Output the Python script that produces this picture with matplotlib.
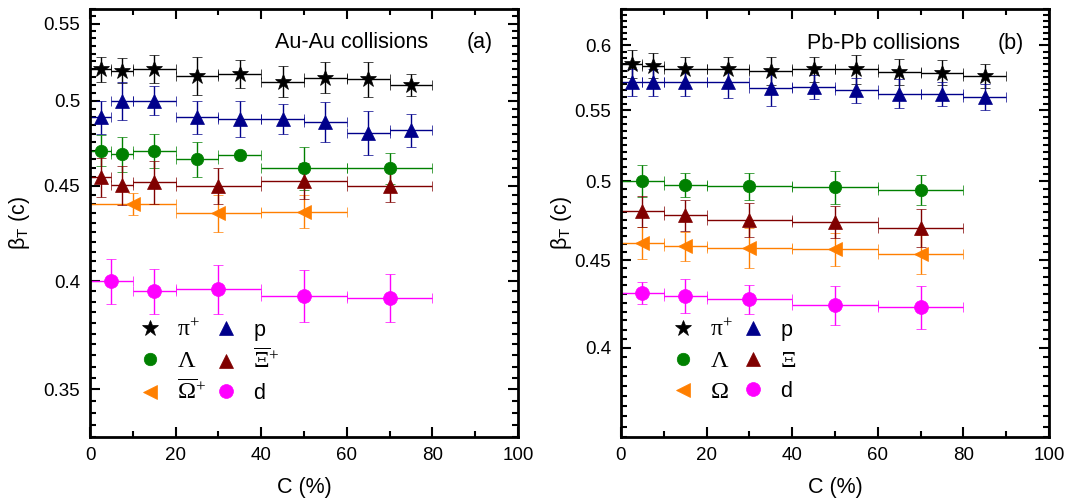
import matplotlib
matplotlib.use("Agg")
import matplotlib.pyplot as plt
from matplotlib.ticker import MultipleLocator, FormatStrFormatter, NullFormatter

plt.rcParams['font.family'] = ['Liberation Sans', 'DejaVu Sans']
plt.rcParams['mathtext.fontset'] = 'custom'
plt.rcParams['mathtext.rm'] = 'Liberation Serif'
plt.rcParams['mathtext.it'] = 'Liberation Serif:italic'
plt.rcParams['mathtext.sf'] = 'Liberation Sans'

# ---- Au-Au (a) ----
au_pi_c = [2.5, 7.5, 15, 25, 35, 45, 55, 65, 75]
au_pi_dx = [2.5, 2.5, 5, 5, 5, 5, 5, 5, 5]
au_pi_y = [0.520, 0.519, 0.520, 0.5155, 0.517, 0.512, 0.5145, 0.5135, 0.510]
au_pi_e = [0.008, 0.008, 0.009, 0.012, 0.009, 0.010, 0.010, 0.011, 0.007]

au_p_c = [2.5, 7.5, 15, 25, 35, 45, 55, 65, 75]
au_p_dx = [2.5, 2.5, 5, 5, 5, 5, 5, 5, 5]
au_p_y = [0.490, 0.500, 0.500, 0.490, 0.489, 0.489, 0.487, 0.4805, 0.482]
au_p_e = [0.010, 0.012, 0.009, 0.010, 0.011, 0.009, 0.012, 0.013, 0.010]

au_lam_c = [2.5, 7.5, 15, 25, 35, 50, 70]
au_lam_dx = [2.5, 2.5, 5, 5, 5, 10, 10]
au_lam_y = [0.470, 0.468, 0.470, 0.465, 0.4675, 0.460, 0.460]
au_lam_e = [0.009, 0.010, 0.010, 0.010, 0.0, 0.012, 0.009]

au_xi_c = [2.5, 7.5, 15, 30, 50, 70]
au_xi_dx = [2.5, 2.5, 5, 10, 10, 10]
au_xi_y = [0.455, 0.4505, 0.452, 0.450, 0.453, 0.450]
au_xi_e = [0.011, 0.011, 0.012, 0.010, 0.010, 0.009]

au_om_c = [10, 30, 50]
au_om_dx = [10, 10, 10]
au_om_y = [0.440, 0.435, 0.436]
au_om_e = [0.006, 0.010, 0.009]

au_d_c = [5, 15, 30, 50, 70]
au_d_dx = [5, 5, 10, 10, 10]
au_d_y = [0.400, 0.395, 0.396, 0.393, 0.392]
au_d_e = [0.011, 0.011, 0.012, 0.0125, 0.0115]

# ---- Pb-Pb (b) ----
pb_pi_c = [2.5, 7.5, 15, 25, 35, 45, 55, 65, 75, 85]
pb_pi_dx = [2.5, 2.5, 5, 5, 5, 5, 5, 5, 5, 5]
pb_pi_y = [0.585, 0.584, 0.581, 0.581, 0.580, 0.581, 0.581, 0.579, 0.5785, 0.576]
pb_pi_e = [0.011, 0.010, 0.010, 0.010, 0.011, 0.010, 0.011, 0.010, 0.0095, 0.009]

pb_p_c = [2.5, 7.5, 15, 25, 35, 45, 55, 65, 75, 85]
pb_p_dx = [2.5, 2.5, 5, 5, 5, 5, 5, 5, 5, 5]
pb_p_y = [0.571, 0.571, 0.571, 0.571, 0.5665, 0.5675, 0.565, 0.5625, 0.5625, 0.560]
pb_p_e = [0.010, 0.010, 0.010, 0.012, 0.013, 0.009, 0.0095, 0.011, 0.009, 0.010]

pb_lam_c = [5, 15, 30, 50, 70]
pb_lam_dx = [5, 5, 10, 10, 10]
pb_lam_y = [0.5005, 0.4975, 0.497, 0.496, 0.4945]
pb_lam_e = [0.0105, 0.008, 0.009, 0.011, 0.010]

pb_xi_c = [5, 15, 30, 50, 70]
pb_xi_dx = [5, 5, 10, 10, 10]
pb_xi_y = [0.4805, 0.478, 0.475, 0.4735, 0.470]
pb_xi_e = [0.010, 0.010, 0.011, 0.010, 0.012]

pb_om_c = [5, 15, 30, 50, 70]
pb_om_dx = [5, 5, 10, 10, 10]
pb_om_y = [0.4605, 0.4585, 0.4575, 0.4565, 0.4535]
pb_om_e = [0.010, 0.009, 0.012, 0.010, 0.012]

pb_d_c = [5, 15, 30, 50, 70]
pb_d_dx = [5, 5, 10, 10, 10]
pb_d_y = [0.4305, 0.429, 0.427, 0.4235, 0.4225]
pb_d_e = [0.0065, 0.010, 0.0085, 0.011, 0.012]

BLACK, NAVY, GREEN, MAROON, ORANGE, MAGENTA = '#000000', '#00008B', '#008000', '#800000', '#FF7F00', '#FF00FF'


def series(ax, c, dx, y, e, color, marker, ms):
    return ax.errorbar(c, y, xerr=dx, yerr=e, fmt=marker, color=color, ms=ms,
                       ecolor=color, elinewidth=1.0, capsize=3.5, capthick=1.0,
                       markeredgewidth=0.5)


def style(ax, ylim, ylab_x):
    ax.set_xlim(0, 100)
    ax.set_yscale('log')
    ax.set_ylim(*ylim)
    ax.xaxis.set_major_locator(MultipleLocator(20))
    ax.xaxis.set_minor_locator(MultipleLocator(10))
    ax.yaxis.set_major_locator(MultipleLocator(0.05))
    ax.yaxis.set_minor_locator(MultipleLocator(0.005))
    ax.yaxis.set_major_formatter(FormatStrFormatter('%g'))
    ax.yaxis.set_minor_formatter(NullFormatter())
    ax.tick_params(which='both', direction='in', top=True, right=True, labelsize=13.5, width=1.5)
    ax.tick_params(which='major', length=7, pad=7)
    ax.tick_params(which='minor', length=4)
    for s in ax.spines.values():
        s.set_linewidth(2)
    ax.set_xlabel('C (%)', fontsize=15.5)
    ax.set_ylabel(r'β$_\mathsf{T}$ (c)', fontsize=15.5)
    ax.xaxis.set_label_coords(0.5, -0.093)
    ax.yaxis.set_label_coords(ylab_x, 0.5)


fig = plt.figure(figsize=(10.69, 4.99), dpi=100)
ax1 = fig.add_axes([90 / 1069, 62 / 499, 428 / 1069, 428 / 499])
ax2 = fig.add_axes([621 / 1069, 62 / 499, 428 / 1069, 428 / 499])

h1 = [
    series(ax1, au_pi_c, au_pi_dx, au_pi_y, au_pi_e, BLACK, '*', 12),
    series(ax1, au_lam_c, au_lam_dx, au_lam_y, au_lam_e, GREEN, 'o', 9),
    series(ax1, au_om_c, au_om_dx, au_om_y, au_om_e, ORANGE, '<', 10),
    series(ax1, au_p_c, au_p_dx, au_p_y, au_p_e, NAVY, '^', 10),
    series(ax1, au_xi_c, au_xi_dx, au_xi_y, au_xi_e, MAROON, '^', 10),
    series(ax1, au_d_c, au_d_dx, au_d_y, au_d_e, MAGENTA, 'o', 10),
]
h2 = [
    series(ax2, pb_pi_c, pb_pi_dx, pb_pi_y, pb_pi_e, BLACK, '*', 12),
    series(ax2, pb_lam_c, pb_lam_dx, pb_lam_y, pb_lam_e, GREEN, 'o', 9),
    series(ax2, pb_om_c, pb_om_dx, pb_om_y, pb_om_e, ORANGE, '<', 10),
    series(ax2, pb_p_c, pb_p_dx, pb_p_y, pb_p_e, NAVY, '^', 10),
    series(ax2, pb_xi_c, pb_xi_dx, pb_xi_y, pb_xi_e, MAROON, '^', 10),
    series(ax2, pb_d_c, pb_d_dx, pb_d_y, pb_d_e, MAGENTA, 'o', 10),
]

labels_a = [r'π$^{+}$', r'$\Lambda$', r'$\overline{\Omega}^{+}$', 'p', r'$\overline{\Xi}^{+}$', 'd']
labels_b = [r'π$^{+}$', r'$\Lambda$', r'$\Omega$', 'p', r'$\Xi$', 'd']

style(ax1, (0.33, 0.56), -0.135)
style(ax2, (0.355, 0.63), -0.11)

for ax, hs, labs, x0 in [(ax1, h1, labels_a, 0.115), (ax2, h2, labels_b, 0.12)]:
    leg = ax.legend([h[0] for h in hs], labs, ncol=2, loc='upper left',
                    bbox_to_anchor=(x0, 0.275), frameon=False, fontsize=15.5,
                    handlelength=1.0, handletextpad=0.75, columnspacing=0.45,
                    labelspacing=0.42, borderpad=0, borderaxespad=0)
    for t, lab in zip(leg.get_texts(), labs):
        if lab.startswith('π'):
            t.set_family(['Liberation Serif', 'DejaVu Serif'])
            t.set_fontsize(17)
        elif lab.startswith('$'):
            t.set_fontsize(17.5)

ax1.text(0.432, 0.921, 'Au-Au collisions', transform=ax1.transAxes, fontsize=15.5, va='center')
ax1.text(0.881, 0.921, '(a)', transform=ax1.transAxes, fontsize=15.5, va='center')
ax2.text(0.434, 0.920, 'Pb-Pb collisions', transform=ax2.transAxes, fontsize=15.5, va='center')
ax2.text(0.881, 0.920, '(b)', transform=ax2.transAxes, fontsize=15.5, va='center')

fig.savefig('out.png', dpi=100)
